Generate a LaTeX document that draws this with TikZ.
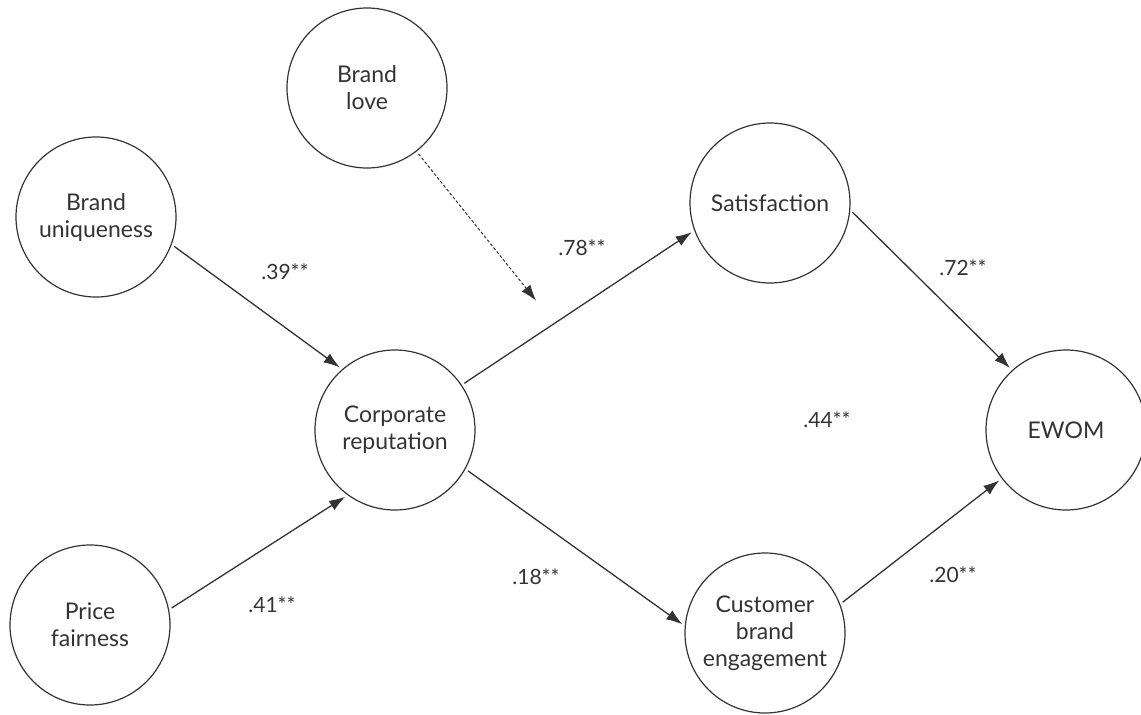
\documentclass[tikz,border=0pt]{standalone}
\usepackage{fontspec}
\setmainfont{Lato}
\usetikzlibrary{arrows.meta}
\definecolor{ink}{HTML}{333333}
\tikzset{
  construct/.style={circle, draw=ink, line width=1.2pt, minimum size=160pt, inner sep=0pt,
    align=center, text=ink, font=\fontsize{23}{27}\selectfont},
  path/.style={draw=ink, line width=1.3pt, -{Latex[length=16pt,width=11pt]}, shorten <=3pt, shorten >=3pt},
  dpath/.style={path, dash pattern=on 3pt off 2pt, line width=1pt},
  coef/.style={text=ink, font=\fontsize{21}{25}\selectfont, inner sep=0pt}
}
\begin{document}
\begin{tikzpicture}[x=1pt,y=-1pt]
\useasboundingbox (0,0) rectangle (1141,715);
\node[construct] (love) at (367,88) {Brand\\love};
\node[construct] (uniq) at (96,217) {Brand\\uniqueness};
\node[construct] (sat) at (770,203) {Satisfaction};
\node[construct] (corp) at (395,430) {Corporate\\reputation};
\node[construct] (ewom) at (1066,430) {EWOM};
\node[construct] (price) at (90,625) {Price\\fairness};
\node[construct] (cbe) at (765,633) {Customer\\brand\\engagement};
\coordinate (lovetip) at (538,303);

\draw[path] (uniq.340) -- (corp.131);
\draw[path] (price.11) -- (corp.234);
\draw[dpath] (love.308) -- (lovetip);
\draw[path] (corp.34) -- (sat.200);
\draw[path] (corp.331) -- (cbe.175);
\draw[path] (sat.355) -- (ewom.132);
\draw[path] (cbe.21) -- (ewom.217);

\node[coef] (l39) at (285,272) {.39**};
\node[coef] (l41) at (272,605) {.41**};
\node[coef] (l78) at (582,248) {.78**};
\node[coef] (l72) at (963,268) {.72**};
\node[coef] (l44) at (827,420) {.44**};
\node[coef] (l18) at (536,577) {.18**};
\node[coef] (l20) at (953,575) {.20**};
\end{tikzpicture}
\end{document}
